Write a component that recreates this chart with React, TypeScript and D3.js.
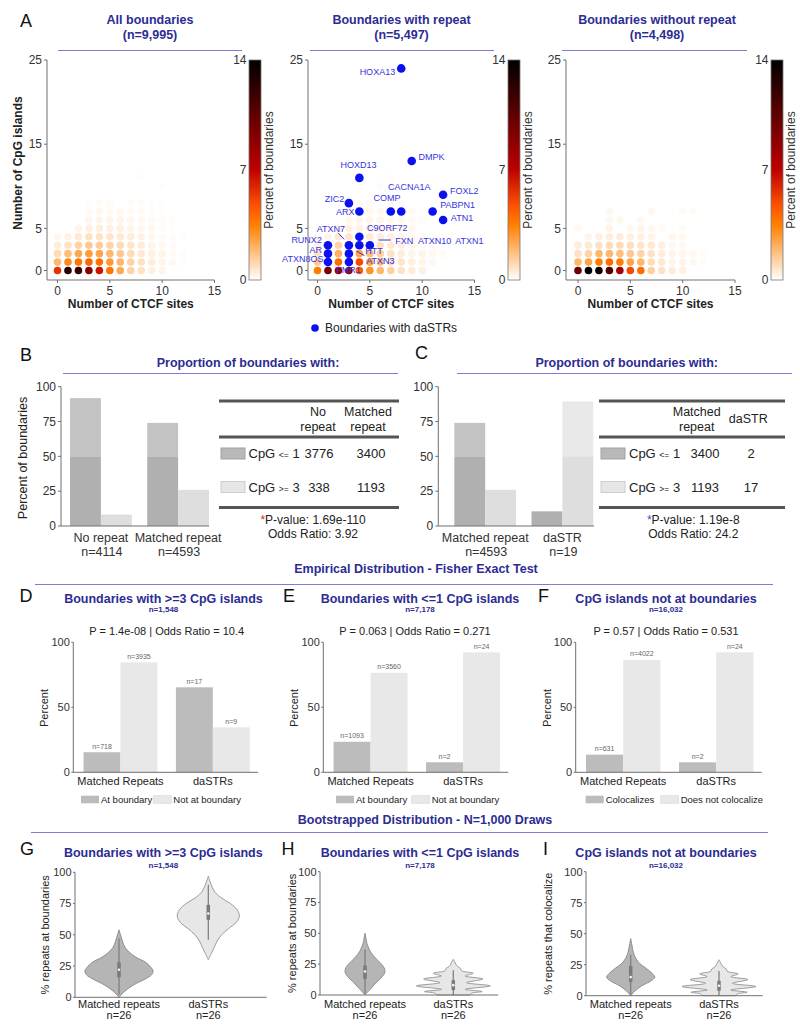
import React from 'react';
import * as d3 from 'd3';

const FONT = '"Liberation Sans", Arial, Helvetica, sans-serif';
const NAVY = '#2c2c94';
const RULE = '#7d7dd6';
const AX = '#707070';
const TICK = '#333';
const GENE = '#3434e0';
const DOT = '#0a10f0';

// ---------------- Panel A data ----------------
const ctcfTicks = [0, 5, 10, 15];
const cpgTicks = [0, 5, 15, 25];
const colorbarTicks = [0, 7, 14];

// rows = number of CpG islands (0..11), columns = number of CTCF sites (0..12); value = percent of boundaries
const heatAll = [
  [5.6, 12.5, 12, 9, 6.5, 3.8, 2.4, 1.2, 0.8, 0.45, 0.3, 0, 0],
  [2, 3.2, 3.8, 4.2, 3.8, 2.8, 2, 1.2, 0.8, 0.5, 0.3, 0.2, 0.1],
  [1, 1.8, 2.4, 2.7, 2.5, 2, 1.5, 1, 0.6, 0.4, 0.3, 0.15, 0.12],
  [0.5, 0.8, 1.2, 1.5, 1.4, 1.2, 1, 0.7, 0.5, 0.3, 0.2, 0.1, 0],
  [0.25, 0.35, 0.6, 0.8, 0.8, 0.7, 0.6, 0.5, 0.35, 0.25, 0.15, 0.1, 0.1],
  [0, 0, 0.3, 0.4, 0.45, 0.4, 0.4, 0.3, 0.25, 0.2, 0.12, 0.08, 0],
  [0, 0, 0, 0.25, 0.3, 0.3, 0.3, 0.25, 0.2, 0.15, 0.1, 0.08, 0],
  [0, 0, 0, 0.15, 0.2, 0.15, 0.2, 0.15, 0.15, 0.1, 0.08, 0, 0],
  [0, 0, 0, 0.12, 0.12, 0.12, 0, 0.1, 0.1, 0.08, 0.06, 0, 0],
  [0, 0, 0, 0, 0, 0, 0, 0, 0, 0, 0, 0, 0],
  [0, 0, 0, 0, 0, 0, 0, 0, 0, 0, 0.06, 0, 0],
  [0, 0, 0, 0, 0, 0, 0, 0, 0.06, 0, 0, 0, 0],
];
const heatRepeat = [
  [3.6, 9.5, 8.5, 9, 4.5, 3, 2, 1.3, 0.8, 0.5, 0.4, 0, 0],
  [1.5, 3, 4, 3.5, 5, 2.5, 1.8, 1, 0.7, 0.4, 0.3, 0.2, 0],
  [0.8, 2, 2.2, 2.4, 2.5, 1.8, 1.3, 0.8, 0.5, 0.3, 0.3, 0.2, 0.15],
  [0.4, 1, 1.2, 1.3, 1.2, 1, 0.8, 0.6, 0.4, 0.3, 0.2, 0.15, 0],
  [0.2, 0.3, 0.6, 0.7, 0.6, 0.6, 0.5, 0.4, 0.3, 0.2, 0.15, 0, 0],
  [0, 0, 0.3, 0.4, 0.35, 0.4, 0.4, 0.3, 0.25, 0.2, 0, 0, 0],
  [0, 0, 0, 0.25, 0.3, 0.3, 0.3, 0.2, 0.2, 0.15, 0.1, 0, 0],
  [0, 0, 0, 0.2, 0, 0.2, 0.2, 0, 0, 0.15, 0, 0, 0],
  [0, 0, 0, 0, 0.15, 0.15, 0, 0.15, 0.1, 0, 0, 0, 0],
  [0, 0, 0, 0, 0, 0, 0.12, 0, 0, 0, 0, 0, 0],
  [0, 0, 0, 0, 0, 0, 0.1, 0, 0, 0, 0, 0, 0],
  [0, 0, 0, 0, 0, 0, 0, 0.1, 0, 0, 0, 0, 0],
];
const heatNoRepeat = [
  [10, 14, 13.5, 11, 8, 5, 4, 1.3, 0.8, 0.5, 0.4, 0, 0],
  [2, 2.5, 3.5, 4, 3.5, 2.5, 2, 1, 0.6, 0.3, 0.3, 0.2, 0.1],
  [0.8, 1.2, 2, 2, 1.8, 1.5, 1.2, 0.8, 0.5, 0.3, 0.25, 0.2, 0.1],
  [0.5, 0.6, 0.8, 1, 1, 0.9, 0.7, 0.6, 0.4, 0.2, 0.2, 0, 0],
  [0, 0.3, 0.4, 0.5, 0.5, 0.4, 0.4, 0.3, 0, 0.25, 0.2, 0, 0],
  [0.2, 0, 0, 0.3, 0, 0.2, 0.3, 0.2, 0.15, 0, 0.15, 0, 0],
  [0, 0, 0, 0.2, 0.2, 0, 0.2, 0, 0, 0, 0, 0, 0],
  [0, 0, 0, 0.2, 0, 0, 0, 0.2, 0, 0, 0.15, 0.15, 0],
];

// boundaries with daSTRs
const daSTRCtcf = [8, 9, 4, 12, 3, 4, 7, 8, 11, 12, 4, 1, 1, 1, 3, 3, 3, 4, 5];
const daSTRCpg = [24, 13, 11, 9, 8, 7, 7, 7, 7, 6, 4, 3, 2, 1, 3, 2, 1, 3, 3];
// gene labels, anchored in data coordinates (CTCF, CpG)
const geneLabels = [
  { gene: 'HOXA13', ctcf: 7.42, cpg: 23.6, anchor: 'end' },
  { gene: 'DMPK', ctcf: 9.65, cpg: 13.5, anchor: 'start' },
  { gene: 'HOXD13', ctcf: 3.92, cpg: 12.5, anchor: 'middle' },
  { gene: 'CACNA1A', ctcf: 8.76, cpg: 9.9, anchor: 'middle' },
  { gene: 'COMP', ctcf: 6.63, cpg: 8.6, anchor: 'middle' },
  { gene: 'FOXL2', ctcf: 12.67, cpg: 9.45, anchor: 'start' },
  { gene: 'PABPN1', ctcf: 11.72, cpg: 7.8, anchor: 'start' },
  { gene: 'ATN1', ctcf: 12.74, cpg: 6.3, anchor: 'start' },
  { gene: 'ZIC2', ctcf: 2.55, cpg: 8.5, anchor: 'end' },
  { gene: 'ARX', ctcf: 3.53, cpg: 6.95, anchor: 'end' },
  { gene: 'C9ORF72', ctcf: 4.72, cpg: 5.1, anchor: 'start' },
  { gene: 'ATXN7', ctcf: 1.28, cpg: 4.95, anchor: 'middle' },
  { gene: 'FXN', ctcf: 7.42, cpg: 3.55, anchor: 'start' },
  { gene: 'ATXN10', ctcf: 9.59, cpg: 3.55, anchor: 'start' },
  { gene: 'ATXN1', ctcf: 13.15, cpg: 3.55, anchor: 'start' },
  { gene: 'RUNX2', ctcf: 0.42, cpg: 3.6, anchor: 'end' },
  { gene: 'AR', ctcf: 0.42, cpg: 2.5, anchor: 'end' },
  { gene: 'ATXN8OS', ctcf: 0.57, cpg: 1.4, anchor: 'end' },
  { gene: 'HTT', ctcf: 4.56, cpg: 2.32, anchor: 'start' },
  { gene: 'ATXN3', ctcf: 4.65, cpg: 1.13, anchor: 'start' },
  { gene: 'FMR1', ctcf: 1.79, cpg: 0.06, anchor: 'start' },
];
const leaderLines = [
  [2.0, 4.42, 2.55, 3.7],
  [5.83, 3.62, 7.01, 3.62],
  [3.7, 2.32, 4.49, 1.76],
];

// ---------------- Panel B / C data ----------------
const pctTicks = [0, 25, 50, 75, 100];
const groupsB = ['No repeat', 'Matched repeat'];
const nB = [4114, 4593];
const le1B = [3776, 3400];
const ge3B = [338, 1193];
const groupsC = ['Matched repeat', 'daSTR'];
const nC = [4593, 19];
const le1C = [3400, 2];
const ge3C = [1193, 17];

// ---------------- Panel D / E / F data ----------------
const fisherGroups = ['Matched Repeats', 'daSTRs'];
const fisherTicks = [0, 50, 100];
const atD = [718, 17];
const notD = [3935, 9];
const atE = [1093, 2];
const notE = [3560, 24];
const atF = [631, 2];
const notF = [4022, 24];

// ---------------- Panel G / H / I data (violin outlines: level, relative half-width) ----------------
const violinGroups = ['Matched repeats', 'daSTRs'];
const gMatched: [number, number][] = [[0, 0], [5, 0.16], [10, 0.4], [15, 0.73], [18, 0.88], [21, 0.92], [24, 0.86], [28, 0.72], [32, 0.46], [36, 0.28], [40, 0.16], [45, 0.09], [50, 0.04], [54, 0]];
const gDastr: [number, number][] = [[30, 0], [35, 0.08], [40, 0.16], [45, 0.24], [50, 0.36], [55, 0.55], [60, 0.76], [65, 0.84], [70, 0.78], [75, 0.6], [80, 0.33], [85, 0.16], [90, 0.08], [94, 0.03], [97, 0]];
const hMatched: [number, number][] = [[0, 0], [5, 0.15], [10, 0.3], [15, 0.47], [19, 0.54], [23, 0.5], [27, 0.38], [31, 0.25], [35, 0.15], [38, 0.1], [42, 0.05], [46, 0.025], [50, 0]];
const hDastr: [number, number][] = [[0, 0.45], [1.5, 0.5], [2.8, 0.78], [4.6, 0.32], [7.4, 1.0], [10, 0.36], [13, 0.8], [15.4, 0.32], [17.6, 0.54], [19.7, 0.22], [21.5, 0.2], [23, 0.12], [25, 0.07], [27, 0.035], [29, 0]];
const iMatched: [number, number][] = [[0, 0], [4, 0.12], [8, 0.3], [12, 0.55], [15, 0.65], [18, 0.58], [22, 0.42], [26, 0.24], [30, 0.14], [34, 0.08], [38, 0.05], [42, 0.025], [46, 0]];
const iDastr: [number, number][] = [[0, 0.45], [1.5, 0.5], [2.8, 0.76], [4.6, 0.32], [7.4, 1.0], [10, 0.36], [13, 0.78], [15.4, 0.32], [17.6, 0.52], [19.7, 0.22], [21.5, 0.2], [23, 0.12], [25, 0.07], [27, 0.035], [29, 0]];
// [whisker low, q1, median, q3, whisker high]
const gStats = [[2, 16, 22, 28, 47], [46, 62, 67, 74, 90]];
const hStats = [[1, 13, 19, 24, 37], [0, 4, 8, 12, 20]];
const iStats = [[1, 11, 15, 24, 33], [0, 4, 8, 12, 20]];

// ---------------- helpers ----------------
function heatColor(v: number): string {
  const t = Math.max(0, Math.min(1, 1 - v / 14));
  const c = (u: number) => Math.round(255 * Math.max(0, Math.min(1, u)));
  return `rgb(${c(1.5 * t)},${c(2 * t - 1)},${c(4 * t - 3)})`;
}

const T = ({ x, y, children, size = 12, anchor = 'middle', weight = 'normal', fill = TICK, rotate = 0 }: any) => (
  <text
    x={x}
    y={y}
    dy="0.35em"
    fontSize={size}
    textAnchor={anchor}
    fontWeight={weight}
    fill={fill}
    fontFamily={FONT}
    transform={rotate ? `rotate(${rotate} ${x} ${y})` : undefined}
  >
    {children}
  </text>
);

const A_CFG = [
  { x0: 57.5, axL: 47, cb: 249, tx: 150, rule: [58, 242], cbLabel: 'Percnet of boundaries', title: 'All boundaries', n: '(n=9,995)' },
  { x0: 317.5, axL: 308, cb: 508, tx: 401.5, rule: [310, 494], cbLabel: 'Percent of boundaries', title: 'Boundaries with repeat', n: '(n=5,497)' },
  { x0: 578, axL: 566, cb: 771, tx: 657, rule: [562, 747], cbLabel: 'Percent of boundaries', title: 'Boundaries without repeat', n: '(n=4,498)' },
];

function HeatPanel({ cfg, data, idx, overlay }: any) {
  const x = d3.scaleLinear().domain([0, 15]).range([cfg.x0, cfg.x0 + 157]);
  const y = d3.scaleLinear().domain([0, 25]).range([270.5, 60]);
  const cbY = d3.scaleLinear().domain([0, 14]).range([280, 60]);
  const pts: { i: number; j: number; v: number }[] = [];
  data.forEach((row: number[], j: number) => row.forEach((v, i) => { if (v > 0) pts.push({ i, j, v }); }));
  const gid = `cbgrad${idx}`;
  const stops = d3.range(0, 21).map((k) => ({ off: k / 20, col: heatColor(14 * (1 - k / 20)) }));
  return (
    <g>
      <T x={cfg.tx} y={20} size={12.5} weight="bold" fill={NAVY}>{cfg.title}</T>
      <T x={cfg.tx} y={35} size={12.5} weight="bold" fill={NAVY}>{cfg.n}</T>
      <line x1={cfg.rule[0]} x2={cfg.rule[1]} y1={50.5} y2={50.5} stroke={RULE} strokeWidth={1} />
      {pts.map((p, k) => (
        <circle key={k} cx={x(p.i)} cy={y(p.j)} r={3.8} fill={heatColor(p.v)} />
      ))}
      {overlay ? overlay(x, y) : null}
      <line x1={cfg.axL} x2={cfg.axL} y1={60} y2={280} stroke={AX} />
      <line x1={cfg.axL} x2={x(15)} y1={280} y2={280} stroke={AX} />
      {ctcfTicks.map((t) => (
        <g key={'x' + t}>
          <line x1={x(t)} x2={x(t)} y1={280} y2={283} stroke={AX} />
          <T x={x(t)} y={290.5} size={12}>{t}</T>
        </g>
      ))}
      {cpgTicks.map((t) => (
        <g key={'y' + t}>
          <line x1={cfg.axL - 3} x2={cfg.axL} y1={y(t)} y2={y(t)} stroke={AX} />
          <T x={cfg.axL - 5} y={y(t)} size={12} anchor="end">{t}</T>
        </g>
      ))}
      <T x={(cfg.axL + x(15)) / 2} y={303.5} size={12} weight="bold" fill="#222">Number of CTCF sites</T>
      <defs>
        <linearGradient id={gid} x1="0" y1="0" x2="0" y2="1">
          {stops.map((s, k) => <stop key={k} offset={s.off} stopColor={s.col} />)}
        </linearGradient>
      </defs>
      <rect x={cfg.cb} y={60} width={12} height={220} fill={`url(#${gid})`} stroke="#777" strokeWidth={0.8} />
      {colorbarTicks.map((t) => (
        <T key={'c' + t} x={cfg.cb - 2.5} y={cbY(t)} size={12} anchor="end">{t}</T>
      ))}
      <T x={cfg.cb + 19.5} y={170} size={12} rotate={-90}>{cfg.cbLabel}</T>
    </g>
  );
}

function repeatOverlay(x: any, y: any) {
  return (
    <g>
      {daSTRCtcf.map((c, k) => (
        <circle key={'d' + k} cx={x(c)} cy={y(daSTRCpg[k])} r={4.3} fill={DOT} />
      ))}
      {leaderLines.map((l, k) => (
        <line key={'l' + k} x1={x(l[0])} y1={y(l[1])} x2={x(l[2])} y2={y(l[3])} stroke={GENE} strokeWidth={1} />
      ))}
      {geneLabels.map((g) => (
        <T key={g.gene} x={x(g.ctcf)} y={y(g.cpg)} size={9} anchor={g.anchor} fill={GENE}>{g.gene}</T>
      ))}
    </g>
  );
}

// ---------------- B / C ----------------
function PropPanel({ groups, n, le1, ge3, axisX, axisEnd, bandRange, title, titleX, rule, table }: any) {
  const y = d3.scaleLinear().domain([0, 100]).range([526, 386.7]);
  const xb = d3.scaleBand().domain(groups).range(bandRange).paddingInner(0.2).paddingOuter(0.1);
  const sub = d3.scaleBand().domain(['le1', 'ge3']).range([0, xb.bandwidth()]);
  const bars: any[] = [];
  groups.forEach((g: string, i: number) => {
    const tot = le1[i] + ge3[i];
    bars.push({ g, s: 'le1', v: (100 * le1[i]) / tot });
    bars.push({ g, s: 'ge3', v: (100 * ge3[i]) / tot });
  });
  const cols: any = { le1: ['#c3c3c3', '#b0b0b0'], ge3: ['#e9e9e9', '#dedede'] };
  return (
    <g>
      <T x={titleX} y={363} size={12.5} weight="bold" fill={NAVY}>{title}</T>
      <line x1={rule[0]} x2={rule[1]} y1={373.5} y2={373.5} stroke={RULE} />
      {bars.map((b, k) => {
        const x0 = (xb(b.g) as number) + (sub(b.s) as number);
        const w = sub.bandwidth();
        const low = Math.min(b.v, 50);
        return (
          <g key={k}>
            {b.v > 50 && <rect x={x0} y={y(b.v)} width={w} height={y(50) - y(b.v)} fill={cols[b.s][0]} />}
            <rect x={x0} y={y(low)} width={w} height={y(0) - y(low)} fill={cols[b.s][1]} />
          </g>
        );
      })}
      <line x1={axisX} x2={axisX} y1={386.7} y2={526} stroke={AX} />
      <line x1={axisX} x2={axisEnd} y1={526} y2={526} stroke={AX} />
      {pctTicks.map((t) => (
        <g key={t}>
          <line x1={axisX - 3} x2={axisX} y1={y(t)} y2={y(t)} stroke={AX} />
          <T x={axisX - 5} y={y(t)} size={12} anchor="end">{t}</T>
        </g>
      ))}
      {groups.map((g: string, i: number) => (
        <g key={g}>
          <T x={(xb(g) as number) + xb.bandwidth() / 2} y={538} size={12.5}>{g}</T>
          <T x={(xb(g) as number) + xb.bandwidth() / 2 + 1} y={551.5} size={12.5}>{`n=${n[i]}`}</T>
        </g>
      ))}
      {table}
    </g>
  );
}

function CpgLabel({ x, y, op, num }: any) {
  return (
    <text x={x} y={y} dy="0.35em" fontSize={13} fontFamily={FONT} fill="#222">
      CpG <tspan fontSize={8.5}>{op}</tspan> {num}
    </text>
  );
}

function Table({ left, right, headers, colX, countX, counts, labelX, pX, pText, oddsText, starColor }: any) {
  return (
    <g>
      <line x1={left} x2={right} y1={401} y2={401} stroke="#555" strokeWidth={3} />
      <line x1={left} x2={right} y1={437} y2={437} stroke="#555" strokeWidth={3} />
      <line x1={left} x2={right} y1={507.5} y2={507.5} stroke="#555" strokeWidth={3} />
      {headers.map((h: string[], i: number) =>
        h.length === 2 ? (
          <g key={i}>
            <T x={colX[i]} y={411.5} size={12.5} fill="#222">{h[0]}</T>
            <T x={colX[i]} y={426.5} size={12.5} fill="#222">{h[1]}</T>
          </g>
        ) : (
          <T key={i} x={colX[i]} y={418.5} size={12.5} fill="#222">{h[0]}</T>
        )
      )}
      <rect x={left + 2} y={448} width={24} height={11} fill="#b8b8b8" stroke="#a2a2a2" />
      <rect x={left + 2} y={481.5} width={24} height={11} fill="#e6e6e6" stroke="#cdcdcd" />
      <CpgLabel x={labelX} y={453.5} op="<=" num="1" />
      <CpgLabel x={labelX} y={487} op=">=" num="3" />
      {counts.map((row: number[], r: number) =>
        row.map((c: number, i: number) => (
          <T key={r + '-' + i} x={countX[i]} y={r === 0 ? 453.5 : 487} size={13} fill="#222">{c}</T>
        ))
      )}
      <text x={pX} y={520} dy="0.35em" fontSize={12} fontFamily={FONT} fill="#222" textAnchor="middle">
        <tspan fill={starColor}>*</tspan>{pText}
      </text>
      <T x={pX} y={534} size={12} fill="#222">{oddsText}</T>
    </g>
  );
}

// ---------------- D / E / F ----------------
function FisherPanel({ axisX, axisEnd, title, n, titleX, pText, pX, at, not, legend, legendX, yLabelX }: any) {
  const y = d3.scaleLinear().domain([0, 100]).range([772.3, 642.3]);
  const xb = d3.scaleBand().domain(fisherGroups).range([axisX + 1, axisEnd + 1]).paddingInner(0.2).paddingOuter(0.1);
  const sub = d3.scaleBand().domain(['at', 'not']).range([0, xb.bandwidth()]);
  const bars: any[] = [];
  fisherGroups.forEach((g, i) => {
    const tot = at[i] + not[i];
    bars.push({ g, s: 'at', v: (100 * at[i]) / tot, c: at[i] });
    bars.push({ g, s: 'not', v: (100 * not[i]) / tot, c: not[i] });
  });
  return (
    <g>
      <T x={titleX} y={598.5} size={12.5} weight="bold" fill={NAVY}>{title}</T>
      <T x={titleX} y={609.5} size={8} weight="bold" fill={NAVY}>{n}</T>
      <T x={pX} y={631} size={11} fill="#222">{pText}</T>
      {bars.map((b, k) => {
        const x0 = (xb(b.g) as number) + (sub(b.s) as number);
        return (
          <g key={k}>
            <rect x={x0} y={y(b.v)} width={sub.bandwidth()} height={y(0) - y(b.v)} fill={b.s === 'at' ? '#bcbcbc' : '#e8e8e8'} />
            <T x={x0 + sub.bandwidth() / 2} y={y(b.v) - 6} size={7} fill="#666">{`n=${b.c}`}</T>
          </g>
        );
      })}
      <line x1={axisX} x2={axisX} y1={642.3} y2={772.3} stroke={AX} />
      <line x1={axisX} x2={axisEnd} y1={772.3} y2={772.3} stroke={AX} />
      {fisherTicks.map((t) => (
        <g key={t}>
          <line x1={axisX - 2} x2={axisX} y1={y(t)} y2={y(t)} stroke={AX} />
          <T x={axisX - 3.5} y={y(t)} size={11} anchor="end">{t}</T>
        </g>
      ))}
      {fisherGroups.map((g) => (
        <T key={g} x={(xb(g) as number) + xb.bandwidth() / 2} y={781.5} size={11} fill="#222">{g}</T>
      ))}
      <T x={yLabelX} y={708} size={11} rotate={-90} fill="#222">Percent</T>
      <rect x={legendX[0]} y={795.7} width={18} height={7.6} fill="#bcbcbc" />
      <T x={legendX[0] + 20} y={799.5} size={9.5} anchor="start" fill="#222">{legend[0]}</T>
      <rect x={legendX[1]} y={795.7} width={18} height={7.6} fill="#e8e8e8" stroke="#d8d8d8" strokeWidth={0.6} />
      <T x={legendX[1] + 20} y={799.5} size={9.5} anchor="start" fill="#222">{legend[1]}</T>
    </g>
  );
}

// ---------------- G / H / I ----------------
function ViolinPanel({ axisX, axisEnd, y0, y100, centers, shapes, stats, title, n, titleX, yLabel, yLabelX }: any) {
  const y = d3.scaleLinear().domain([0, 100]).range([y0, y100]);
  const xp = d3.scalePoint().domain(violinGroups).range(centers);
  const W = 37;
  const fills = [['#b5b5b5', '#8c8c8c'], ['#e7e7e7', '#9c9c9c']];
  return (
    <g>
      <T x={titleX} y={852.5} size={12.5} weight="bold" fill={NAVY}>{title}</T>
      <T x={titleX} y={865} size={8} weight="bold" fill={NAVY}>{n}</T>
      {violinGroups.map((g, i) => {
        const cx = xp(g) as number;
        const area = d3
          .area<[number, number]>()
          .y((d) => y(d[0]))
          .x0((d) => cx - d[1] * W)
          .x1((d) => cx + d[1] * W)
          .curve(d3.curveCatmullRom);
        const s = stats[i];
        return (
          <g key={g}>
            <path d={area(shapes[i]) as string} fill={fills[i][0]} stroke={fills[i][1]} strokeWidth={1} />
            <line x1={cx} x2={cx} y1={y(s[0])} y2={y(s[4])} stroke="#7a7a7a" strokeWidth={1.2} />
            <line x1={cx} x2={cx} y1={y(s[1])} y2={y(s[3])} stroke="#7a7a7a" strokeWidth={3.5} />
            <circle cx={cx} cy={y(s[2])} r={1.3} fill="#f4f4f4" />
            <T x={cx} y={1004} size={11} fill="#222">{g}</T>
            <T x={cx} y={1015} size={11} fill="#222">n=26</T>
          </g>
        );
      })}
      <line x1={axisX} x2={axisX} y1={y100} y2={y0} stroke={AX} />
      <line x1={axisX} x2={axisEnd} y1={y0} y2={y0} stroke={AX} />
      {pctTicks.map((t) => (
        <g key={t}>
          <line x1={axisX - 2} x2={axisX} y1={y(t)} y2={y(t)} stroke={AX} />
          <T x={axisX - 3.5} y={y(t)} size={11} anchor="end">{t}</T>
        </g>
      ))}
      <T x={yLabelX} y={(y0 + y100) / 2} size={11} rotate={-90} fill="#222">{yLabel}</T>
    </g>
  );
}

const Letter = ({ x, y, c }: any) => (
  <text x={x} y={y} fontSize={18} fontFamily={FONT} fill="#111">{c}</text>
);

export default function App() {
  return (
    <svg width={800} height={1028} style={{ position: 'absolute', left: 0, top: 0 }} fontFamily={FONT}>
      <rect width={800} height={1028} fill="#fff" />
      {/* Panel A */}
      <Letter x={20} y={27} c="A" />
      <HeatPanel cfg={A_CFG[0]} data={heatAll} idx={0} />
      <HeatPanel cfg={A_CFG[1]} data={heatRepeat} idx={1} overlay={repeatOverlay} />
      <HeatPanel cfg={A_CFG[2]} data={heatNoRepeat} idx={2} />
      <T x={18} y={163} size={12} weight="bold" rotate={-90} fill="#222">Number of CpG islands</T>
      <circle cx={315} cy={328} r={3.8} fill={DOT} />
      <T x={325} y={328} size={12} anchor="start" fill="#222">Boundaries with daSTRs</T>

      {/* Panel B */}
      <Letter x={20} y={361} c="B" />
      <T x={23} y={458} size={12.5} rotate={-90} fill="#222">Percent of boundaries</T>
      <PropPanel
        groups={groupsB} n={nB} le1={le1B} ge3={ge3B}
        axisX={61} axisEnd={209} bandRange={[62.3, 216.7]}
        title="Proportion of boundaries with:" titleX={248} rule={[63, 398]}
        table={
          <Table left={219} right={399} headers={[['No', 'repeat'], ['Matched', 'repeat']]} colX={[318, 368]}
            countX={[319, 371]}
            counts={[[le1B[0], le1B[1]], [ge3B[0], ge3B[1]]]} labelX={248.5} pX={313}
            pText="P-value: 1.69e-110" oddsText="Odds Ratio: 3.92" starColor="#e02020" />
        }
      />
      {/* Panel C */}
      <Letter x={415} y={358.5} c="C" />
      <PropPanel
        groups={groupsC} n={nC} le1={le1C} ge3={ge3C}
        axisX={438.3} axisEnd={594} bandRange={[446.6, 601]}
        title="Proportion of boundaries with:" titleX={626.7} rule={[457, 792]}
        table={
          <Table left={599} right={785} headers={[['Matched', 'repeat'], ['daSTR']]} colX={[696.7, 748.3]}
            countX={[705, 751]}
            counts={[[le1C[0], le1C[1]], [ge3C[0], ge3C[1]]]} labelX={629} pX={693.3}
            pText="P-value: 1.19e-8" oddsText="Odds Ratio: 24.2" starColor="#3050e0" />
        }
      />

      {/* Empirical header */}
      <T x={416} y={568.5} size={12.5} weight="bold" fill={NAVY}>Empirical Distribution - Fisher Exact Test</T>
      <line x1={35} x2={773} y1={584.5} y2={584.5} stroke={RULE} />

      <Letter x={19.5} y={601.5} c="D" />
      <FisherPanel axisX={73.3} axisEnd={258} title="Boundaries with >=3 CpG islands" n="n=1,548" titleX={163.5}
        pText="P =  1.4e-08 | Odds Ratio = 10.4" pX={166.7} at={atD} not={notD}
        legend={['At boundary', 'Not at boundary']} legendX={[81, 153.3]} yLabelX={44.5} />
      <Letter x={283} y={602} c="E" />
      <FisherPanel axisX={323.3} axisEnd={508.3} title="Boundaries with <=1 CpG islands" n="n=7,178" titleX={420}
        pText="P =  0.063 | Odds Ratio = 0.271" pX={415} at={atE} not={notE}
        legend={['At boundary', 'Not at boundary']} legendX={[336, 411.7]} yLabelX={294.5} />
      <Letter x={538} y={602} c="F" />
      <FisherPanel axisX={575.7} axisEnd={761.7} title="CpG islands not at boundaries" n="n=16,032" titleX={666}
        pText="P =  0.57 | Odds Ratio = 0.531" pX={666} at={atF} not={notF}
        legend={['Colocalizes', 'Does not colocalize']} legendX={[585.7, 660.7]} yLabelX={546.7} />

      {/* Bootstrap header */}
      <T x={425} y={820} size={12.5} weight="bold" fill={NAVY}>Bootstrapped Distribution - N=1,000 Draws</T>
      <line x1={31} x2={768} y1={832.5} y2={832.5} stroke={RULE} />

      <Letter x={20} y={855} c="G" />
      <ViolinPanel axisX={75} axisEnd={266.7} y0={997.3} y100={872.3} centers={[119, 208.3]}
        shapes={[gMatched, gDastr]} stats={gStats} title="Boundaries with >=3 CpG islands" n="n=1,548" titleX={163.3}
        yLabel="% repeats at boundaries" yLabelX={45} />
      <Letter x={281.5} y={855} c="H" />
      <ViolinPanel axisX={320} axisEnd={498.3} y0={995} y100={871.7} centers={[365, 453.3]}
        shapes={[hMatched, hDastr]} stats={hStats} title="Boundaries with <=1 CpG islands" n="n=7,178" titleX={420}
        yLabel="% repeats at boundaries" yLabelX={291.7} />
      <Letter x={543} y={855} c="I" />
      <ViolinPanel axisX={586} axisEnd={762.7} y0={995.7} y100={871.7} centers={[630.7, 719]}
        shapes={[iMatched, iDastr]} stats={iStats} title="CpG islands not at boundaries" n="n=16,032" titleX={666}
        yLabel="% repeats that colocalize" yLabelX={548.3} />
    </svg>
  );
}
